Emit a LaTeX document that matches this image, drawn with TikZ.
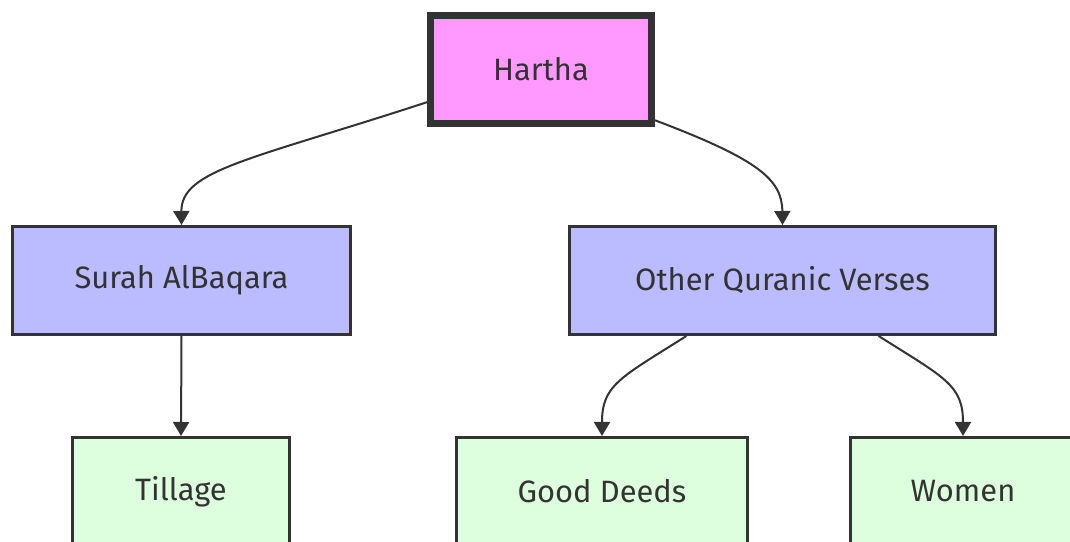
\documentclass[tikz,border=0pt]{standalone}
\usepackage{fontspec}
\setmainfont{Fira Sans}
\usetikzlibrary{arrows.meta}
\definecolor{ink}{HTML}{333333}
\definecolor{rootfill}{HTML}{FF99FF}
\definecolor{midfill}{HTML}{BBBBFF}
\definecolor{leaffill}{HTML}{DDFFDD}
\tikzset{
  box/.style={draw=ink, rectangle, inner sep=0pt, text=ink,
    font=\fontsize{31}{36}\selectfont, line width=3bp},
  rootbox/.style={box, fill=rootfill, line width=7bp},
  midbox/.style={box, fill=midfill},
  leafbox/.style={box, fill=leaffill},
  link/.style={draw=ink, line width=2bp,
    -{Triangle[width=16bp,length=14bp]}}
}
\begin{document}
\begin{tikzpicture}[x=1bp, y=-1bp]
  \useasboundingbox (0,0) rectangle (1070,542);
  \clip (0,0) rectangle (1070,542);
  \fill[white] (0,0) rectangle (1070,542);

  % boxes
  \node[rootbox, minimum width=221bp, minimum height=108bp] (h) at (541,69.5) {Hartha};
  \node[midbox, minimum width=338bp, minimum height=108bp] (s) at (181.5,280.5) {Surah AlBaqara};
  \node[midbox, minimum width=426bp, minimum height=108bp] (o) at (782.5,280.5) {Other Quranic Verses};
  \node[leafbox, minimum width=217bp, minimum height=108bp] (t) at (181,491.5) {Tillage};
  \node[leafbox, minimum width=291bp, minimum height=108bp] (g) at (602,491.5) {Good Deeds};
  \node[leafbox, minimum width=225bp, minimum height=108bp] (w) at (963,491.5) {Women};

  % links
  \draw[link] (h.196) .. controls (250,160) and (181,170) .. (s.north);
  \draw[link] (h.336) .. controls (760,160) and (782,180) .. (o.north);
  \draw[link] (s.south) -- (t.north);
  \draw[link] (o.210) .. controls (620,378) and (602,385) .. (g.north);
  \draw[link] (o.330) .. controls (945,378) and (963,385) .. (w.north);
\end{tikzpicture}
\end{document}
